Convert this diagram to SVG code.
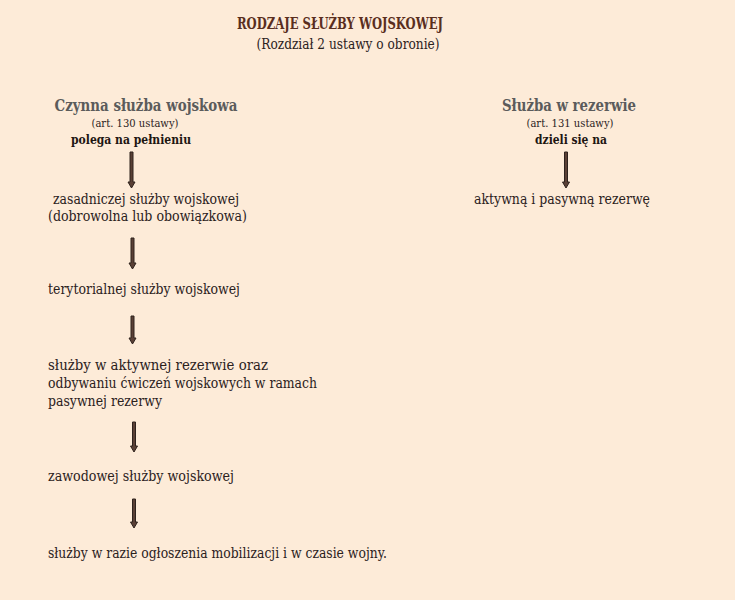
<svg xmlns="http://www.w3.org/2000/svg" width="735" height="600" viewBox="0 0 735 600">
<style>
text{font-family:"DejaVu Serif","Liberation Serif",serif;fill:#2b211c}
.title{font-weight:bold;font-size:16px;fill:#5a2e1e}
.sub{font-size:14.5px}
.head{font-weight:bold;font-size:17px;fill:#5b5b5b}
.art{font-size:11px}
.bold{font-weight:bold;font-size:13.5px;fill:#1e1612}
.body{font-size:14px}
.arr{fill:#5a4036;stroke:#2e221d;stroke-width:1}
</style>
<rect width="735" height="600" fill="#fdebd8"/>
<g id="title">
<text class="title" x="340" y="29" text-anchor="middle" textLength="206" lengthAdjust="spacingAndGlyphs">RODZAJE SŁUŻBY WOJSKOWEJ</text>
<text class="sub" x="348" y="49" text-anchor="middle" textLength="183" lengthAdjust="spacingAndGlyphs">(Rozdział 2 ustawy o obronie)</text>
</g>
<g id="czynna">
<text class="head" x="146" y="111" text-anchor="middle" textLength="183" lengthAdjust="spacingAndGlyphs">Czynna służba wojskowa</text>
<text class="art" x="135" y="127" text-anchor="middle" textLength="87" lengthAdjust="spacingAndGlyphs">(art. 130 ustawy)</text>
<text class="bold" x="131" y="144" text-anchor="middle" textLength="120" lengthAdjust="spacingAndGlyphs">polega na pełnieniu</text>
</g>
<g id="rezerwa">
<text class="head" x="569" y="111" text-anchor="middle" textLength="134" lengthAdjust="spacingAndGlyphs">Służba w rezerwie</text>
<text class="art" x="570" y="127" text-anchor="middle" textLength="87" lengthAdjust="spacingAndGlyphs">(art. 131 ustawy)</text>
<text class="bold" x="571" y="144" text-anchor="middle" textLength="72" lengthAdjust="spacingAndGlyphs">dzieli się na</text>
</g>
<g id="zasadnicza">
<text class="body" x="53" y="204" textLength="186" lengthAdjust="spacingAndGlyphs">zasadniczej służby wojskowej</text>
<text class="body" x="48" y="221" textLength="199" lengthAdjust="spacingAndGlyphs">(dobrowolna lub obowiązkowa)</text>
</g>
<g id="aktywna-pasywna">
<text class="body" x="474" y="204" textLength="176" lengthAdjust="spacingAndGlyphs">aktywną i pasywną rezerwę</text>
</g>
<g id="terytorialna">
<text class="body" x="48" y="294" textLength="192" lengthAdjust="spacingAndGlyphs">terytorialnej służby wojskowej</text>
</g>
<g id="aktywna-rezerwa">
<text class="body" x="48" y="370" textLength="220" lengthAdjust="spacingAndGlyphs">służby w aktywnej rezerwie oraz</text>
<text class="body" x="48" y="388" textLength="269" lengthAdjust="spacingAndGlyphs">odbywaniu ćwiczeń wojskowych w ramach</text>
<text class="body" x="48" y="406" textLength="114" lengthAdjust="spacingAndGlyphs">pasywnej rezerwy</text>
</g>
<g id="zawodowa">
<text class="body" x="48" y="481" textLength="186" lengthAdjust="spacingAndGlyphs">zawodowej służby wojskowej</text>
</g>
<g id="mobilizacja">
<text class="body" x="48" y="558" textLength="339" lengthAdjust="spacingAndGlyphs">służby w razie ogłoszenia mobilizacji i w czasie wojny.</text>
</g>
<g id="connectors">
<path class="arr" d="M130,152 H133 V182 H135 L131.5,188 L128,182 H130 Z"/>
<path class="arr" d="M131,238 H134 V263 H136 L132.5,269 L129,263 H131 Z"/>
<path class="arr" d="M131,316 H134 V338 H136 L132.5,344 L129,338 H131 Z"/>
<path class="arr" d="M132.5,422 H135.5 V446 H137.5 L134,452 L130.5,446 H132.5 Z"/>
<path class="arr" d="M132.5,499 H135.5 V522 H137.5 L134,528 L130.5,522 H132.5 Z"/>
<path class="arr" d="M564.5,152 H567.5 V182 H569.5 L566,188 L562.5,182 H564.5 Z"/>
</g>
</svg>
